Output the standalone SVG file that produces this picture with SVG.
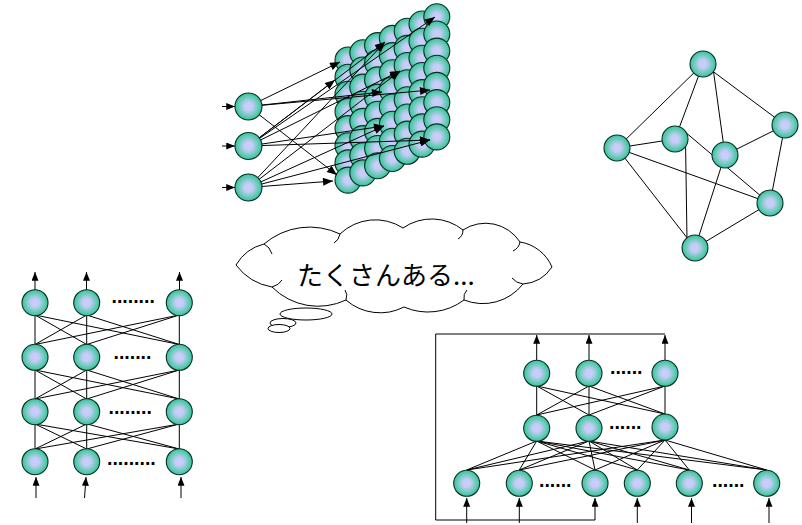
<svg xmlns="http://www.w3.org/2000/svg" width="802" height="525" viewBox="0 0 802 525">
  <defs>
    <radialGradient id="ball" cx="50%" cy="50%" r="50%">
      <stop offset="0" stop-color="#ccccff"/>
      <stop offset="0.3" stop-color="#c4cdf5"/>
      <stop offset="1" stop-color="#30c796"/>
    </radialGradient>
    <marker id="ah" viewBox="0 0 10 8" refX="10" refY="4" markerWidth="11" markerHeight="8" markerUnits="userSpaceOnUse" orient="auto">
      <path d="M0,0 L10,4 L0,8 z" fill="#000"/>
    </marker>
    <marker id="as" viewBox="0 0 10 8" refX="10" refY="4" markerWidth="9" markerHeight="7" markerUnits="userSpaceOnUse" orient="auto">
      <path d="M0,0 L10,4 L0,8 z" fill="#000"/>
    </marker>
  </defs>
  <style>
    .node circle { fill: url(#ball); stroke: #0b2e22; stroke-width: 1.1; }
    .ln { stroke: #000; stroke-width: 1; fill: none; }
    .ar { stroke: #000; stroke-width: 1; fill: none; marker-end: url(#ah); }
    .sa { stroke: #000; stroke-width: 1; fill: none; marker-end: url(#as); }
    .dots { font-family: 'Liberation Sans', Arial, sans-serif; font-weight: bold; font-size: 19.5px; fill: #000; }
    .cloud { fill: #fff; stroke: #000; stroke-width: 1; }
    .hook { fill: none; stroke: #000; stroke-width: 1; }
  </style>
  <rect width="802" height="525" fill="#fff"/>

  <!-- 7 x 8 sheet of units, drawn back to front -->
  <g id="sheet">
    <g id="u-c0-r0" class="node"><circle cx="348" cy="60" r="13"/></g>
    <g id="u-c0-r1" class="node"><circle cx="348" cy="77.2" r="13"/></g>
    <g id="u-c0-r2" class="node"><circle cx="348" cy="94.3" r="13"/></g>
    <g id="u-c0-r3" class="node"><circle cx="348" cy="111.5" r="13"/></g>
    <g id="u-c0-r4" class="node"><circle cx="348" cy="128.6" r="13"/></g>
    <g id="u-c0-r5" class="node"><circle cx="348" cy="145.8" r="13"/></g>
    <g id="u-c0-r6" class="node"><circle cx="348" cy="162.9" r="13"/></g>
    <g id="u-c0-r7" class="node"><circle cx="348" cy="180.1" r="13"/></g>
    <g id="u-c1-r0" class="node"><circle cx="362.8" cy="52.8" r="13"/></g>
    <g id="u-c1-r1" class="node"><circle cx="362.8" cy="70" r="13"/></g>
    <g id="u-c1-r2" class="node"><circle cx="362.8" cy="87.1" r="13"/></g>
    <g id="u-c1-r3" class="node"><circle cx="362.8" cy="104.3" r="13"/></g>
    <g id="u-c1-r4" class="node"><circle cx="362.8" cy="121.4" r="13"/></g>
    <g id="u-c1-r5" class="node"><circle cx="362.8" cy="138.6" r="13"/></g>
    <g id="u-c1-r6" class="node"><circle cx="362.8" cy="155.7" r="13"/></g>
    <g id="u-c1-r7" class="node"><circle cx="362.8" cy="172.9" r="13"/></g>
    <g id="u-c2-r0" class="node"><circle cx="377.6" cy="45.6" r="13"/></g>
    <g id="u-c2-r1" class="node"><circle cx="377.6" cy="62.8" r="13"/></g>
    <g id="u-c2-r2" class="node"><circle cx="377.6" cy="79.9" r="13"/></g>
    <g id="u-c2-r3" class="node"><circle cx="377.6" cy="97.1" r="13"/></g>
    <g id="u-c2-r4" class="node"><circle cx="377.6" cy="114.2" r="13"/></g>
    <g id="u-c2-r5" class="node"><circle cx="377.6" cy="131.4" r="13"/></g>
    <g id="u-c2-r6" class="node"><circle cx="377.6" cy="148.5" r="13"/></g>
    <g id="u-c2-r7" class="node"><circle cx="377.6" cy="165.7" r="13"/></g>
    <g id="u-c3-r0" class="node"><circle cx="392.4" cy="38.4" r="13"/></g>
    <g id="u-c3-r1" class="node"><circle cx="392.4" cy="55.6" r="13"/></g>
    <g id="u-c3-r2" class="node"><circle cx="392.4" cy="72.7" r="13"/></g>
    <g id="u-c3-r3" class="node"><circle cx="392.4" cy="89.9" r="13"/></g>
    <g id="u-c3-r4" class="node"><circle cx="392.4" cy="107" r="13"/></g>
    <g id="u-c3-r5" class="node"><circle cx="392.4" cy="124.2" r="13"/></g>
    <g id="u-c3-r6" class="node"><circle cx="392.4" cy="141.3" r="13"/></g>
    <g id="u-c3-r7" class="node"><circle cx="392.4" cy="158.5" r="13"/></g>
    <g id="u-c4-r0" class="node"><circle cx="407.2" cy="31.2" r="13"/></g>
    <g id="u-c4-r1" class="node"><circle cx="407.2" cy="48.4" r="13"/></g>
    <g id="u-c4-r2" class="node"><circle cx="407.2" cy="65.5" r="13"/></g>
    <g id="u-c4-r3" class="node"><circle cx="407.2" cy="82.7" r="13"/></g>
    <g id="u-c4-r4" class="node"><circle cx="407.2" cy="99.8" r="13"/></g>
    <g id="u-c4-r5" class="node"><circle cx="407.2" cy="117" r="13"/></g>
    <g id="u-c4-r6" class="node"><circle cx="407.2" cy="134.1" r="13"/></g>
    <g id="u-c4-r7" class="node"><circle cx="407.2" cy="151.3" r="13"/></g>
    <g id="u-c5-r0" class="node"><circle cx="422" cy="24" r="13"/></g>
    <g id="u-c5-r1" class="node"><circle cx="422" cy="41.2" r="13"/></g>
    <g id="u-c5-r2" class="node"><circle cx="422" cy="58.3" r="13"/></g>
    <g id="u-c5-r3" class="node"><circle cx="422" cy="75.5" r="13"/></g>
    <g id="u-c5-r4" class="node"><circle cx="422" cy="92.6" r="13"/></g>
    <g id="u-c5-r5" class="node"><circle cx="422" cy="109.8" r="13"/></g>
    <g id="u-c5-r6" class="node"><circle cx="422" cy="126.9" r="13"/></g>
    <g id="u-c5-r7" class="node"><circle cx="422" cy="144.1" r="13"/></g>
    <g id="u-c6-r0" class="node"><circle cx="436.8" cy="16.8" r="13"/></g>
    <g id="u-c6-r1" class="node"><circle cx="436.8" cy="34" r="13"/></g>
    <g id="u-c6-r2" class="node"><circle cx="436.8" cy="51.1" r="13"/></g>
    <g id="u-c6-r3" class="node"><circle cx="436.8" cy="68.3" r="13"/></g>
    <g id="u-c6-r4" class="node"><circle cx="436.8" cy="85.4" r="13"/></g>
    <g id="u-c6-r5" class="node"><circle cx="436.8" cy="102.6" r="13"/></g>
    <g id="u-c6-r6" class="node"><circle cx="436.8" cy="119.7" r="13"/></g>
    <g id="u-c6-r7" class="node"><circle cx="436.8" cy="136.9" r="13"/></g>
  </g>

  <g id="connectors">
    <!-- inputs feeding the sheet -->
    <line class="sa" x1="222" y1="106.5" x2="235" y2="106.5"/>
    <line class="sa" x1="222" y1="146" x2="235" y2="146"/>
    <line class="sa" x1="222" y1="187.5" x2="235" y2="187.5"/>
    <line class="ar" x1="248.5" y1="106.5" x2="340" y2="62"/>
    <line class="ar" x1="248.5" y1="106.5" x2="382" y2="92"/>
    <line class="ar" x1="248.5" y1="106.5" x2="430" y2="90"/>
    <line class="ar" x1="248.5" y1="106.5" x2="337" y2="175"/>
    <line class="ar" x1="248.5" y1="146" x2="335" y2="80"/>
    <line class="ar" x1="248.5" y1="146" x2="385" y2="42"/>
    <line class="ar" x1="248.5" y1="146" x2="435" y2="17"/>
    <line class="ar" x1="248.5" y1="146" x2="400" y2="71"/>
    <line class="ar" x1="248.5" y1="146" x2="384" y2="126"/>
    <line class="ar" x1="248.5" y1="146" x2="430" y2="140"/>
    <line class="ar" x1="248.5" y1="187.5" x2="333" y2="181"/>
    <line class="ar" x1="248.5" y1="187.5" x2="384" y2="126"/>
    <line class="ar" x1="248.5" y1="187.5" x2="430" y2="140"/>
    <line class="ar" x1="248.5" y1="187.5" x2="400" y2="71"/>
    <line class="ar" x1="248.5" y1="187.5" x2="385" y2="42"/>

    <!-- random graph -->
    <line class="ln" x1="703" y1="64" x2="617" y2="148"/>
    <line class="ln" x1="703" y1="64" x2="675" y2="139"/>
    <line class="ln" x1="713" y1="68" x2="725" y2="155"/>
    <line class="ln" x1="703" y1="64" x2="785" y2="125"/>
    <line class="ln" x1="617" y1="148" x2="675" y2="139"/>
    <line class="ln" x1="617" y1="148" x2="770" y2="203"/>
    <line class="ln" x1="617" y1="148" x2="695" y2="248"/>
    <line class="ln" x1="685.5" y1="140" x2="687" y2="240"/>
    <line class="ln" x1="686.7" y1="133.3" x2="761.7" y2="196.7"/>
    <line class="ln" x1="725" y1="155" x2="785" y2="125"/>
    <line class="ln" x1="725" y1="155" x2="695" y2="248"/>
    <line class="ln" x1="785" y1="125" x2="770" y2="203"/>
    <line class="ln" x1="770" y1="203" x2="695" y2="248"/>

    <!-- layered net, left -->
    <line class="sa" x1="35" y1="290" x2="35" y2="272"/>
    <line class="sa" x1="86.5" y1="290" x2="86.5" y2="272"/>
    <line class="sa" x1="179.5" y1="290" x2="179.5" y2="272"/>
    <line class="sa" x1="36" y1="498" x2="36" y2="477"/>
    <line class="sa" x1="84.5" y1="498" x2="86" y2="477"/>
    <line class="sa" x1="181" y1="498" x2="181" y2="477"/>
    <g id="l-1-2">
      <line class="ln" x1="35" y1="302.7" x2="35" y2="357.3"/>
      <line class="ln" x1="86.7" y1="302.7" x2="86.7" y2="357.3"/>
      <line class="ln" x1="179.3" y1="302.7" x2="179.3" y2="357.3"/>
      <line class="ln" x1="35" y1="315" x2="86.7" y2="344.5"/>
      <line class="ln" x1="35" y1="315" x2="179.3" y2="344.5"/>
      <line class="ln" x1="86.7" y1="315" x2="35" y2="344.5"/>
      <line class="ln" x1="86.7" y1="315" x2="179.3" y2="344.5"/>
      <line class="ln" x1="179.3" y1="315" x2="35" y2="344.5"/>
      <line class="ln" x1="179.3" y1="315" x2="86.7" y2="344.5"/>
    </g>
    <g id="l-2-3">
      <line class="ln" x1="35" y1="357.3" x2="35" y2="411.7"/>
      <line class="ln" x1="86.7" y1="357.3" x2="86.7" y2="411.7"/>
      <line class="ln" x1="179.3" y1="357.3" x2="179.3" y2="411.7"/>
      <line class="ln" x1="35" y1="370" x2="86.7" y2="399"/>
      <line class="ln" x1="35" y1="370" x2="179.3" y2="399"/>
      <line class="ln" x1="86.7" y1="370" x2="35" y2="399"/>
      <line class="ln" x1="86.7" y1="370" x2="179.3" y2="399"/>
      <line class="ln" x1="179.3" y1="370" x2="35" y2="399"/>
      <line class="ln" x1="179.3" y1="370" x2="86.7" y2="399"/>
    </g>
    <g id="l-3-4">
      <line class="ln" x1="35" y1="411.7" x2="35" y2="461.7"/>
      <line class="ln" x1="86.7" y1="411.7" x2="86.7" y2="461.7"/>
      <line class="ln" x1="179.3" y1="411.7" x2="179.3" y2="461.7"/>
      <line class="ln" x1="35" y1="424" x2="86.7" y2="449"/>
      <line class="ln" x1="35" y1="424" x2="179.3" y2="449"/>
      <line class="ln" x1="86.7" y1="424" x2="35" y2="449"/>
      <line class="ln" x1="80" y1="422" x2="179.3" y2="449"/>
      <line class="ln" x1="179.3" y1="424" x2="35" y2="449"/>
      <line class="ln" x1="179.3" y1="424" x2="86.7" y2="449"/>
    </g>

    <!-- recurrent net, right -->
    <path class="ln" d="M665,334 H435.7 V520 H595"/>
    <line class="sa" x1="595" y1="520" x2="595" y2="498"/>
    <line class="sa" x1="536.7" y1="360" x2="536.7" y2="335"/>
    <line class="sa" x1="589" y1="360" x2="589" y2="335"/>
    <line class="sa" x1="665" y1="360" x2="665" y2="335"/>
    <line class="sa" x1="466.7" y1="523" x2="466.7" y2="498"/>
    <line class="sa" x1="519.3" y1="523" x2="519.3" y2="498"/>
    <line class="sa" x1="637.3" y1="523" x2="637.3" y2="498"/>
    <line class="sa" x1="691.5" y1="523" x2="691.5" y2="498"/>
    <line class="sa" x1="769" y1="523" x2="769" y2="498"/>
    <g id="r-top-mid">
      <line class="ln" x1="536.7" y1="373.3" x2="536.7" y2="428.3"/>
      <line class="ln" x1="589" y1="373.3" x2="589" y2="428.3"/>
      <line class="ln" x1="665" y1="373.3" x2="665" y2="427"/>
      <line class="ln" x1="536.7" y1="386" x2="589" y2="415"/>
      <line class="ln" x1="536.7" y1="386" x2="665" y2="414"/>
      <line class="ln" x1="589" y1="386" x2="536.7" y2="415"/>
      <line class="ln" x1="589" y1="386" x2="665" y2="414"/>
      <line class="ln" x1="665" y1="386" x2="536.7" y2="415"/>
      <line class="ln" x1="665" y1="386" x2="589" y2="415"/>
    </g>
    <g id="r-mid-bot">
      <line class="ln" x1="536.7" y1="441" x2="466.7" y2="470"/>
      <line class="ln" x1="536.7" y1="441" x2="519.3" y2="470"/>
      <line class="ln" x1="536.7" y1="441" x2="595" y2="470"/>
      <line class="ln" x1="536.7" y1="441" x2="637.3" y2="470"/>
      <line class="ln" x1="536.7" y1="441" x2="689.3" y2="470"/>
      <line class="ln" x1="536.7" y1="441" x2="766.7" y2="470"/>
      <line class="ln" x1="589" y1="441" x2="466.7" y2="470"/>
      <line class="ln" x1="589" y1="441" x2="519.3" y2="470"/>
      <line class="ln" x1="589" y1="441" x2="595" y2="470"/>
      <line class="ln" x1="589" y1="441" x2="637.3" y2="470"/>
      <line class="ln" x1="589" y1="441" x2="689.3" y2="470"/>
      <line class="ln" x1="589" y1="441" x2="766.7" y2="470"/>
      <line class="ln" x1="665" y1="440" x2="466.7" y2="470"/>
      <line class="ln" x1="665" y1="440" x2="519.3" y2="470"/>
      <line class="ln" x1="665" y1="440" x2="595" y2="470"/>
      <line class="ln" x1="665" y1="440" x2="637.3" y2="470"/>
      <line class="ln" x1="665" y1="440" x2="689.3" y2="470"/>
      <line class="ln" x1="665" y1="440" x2="766.7" y2="470"/>
    </g>
  </g>

  <!-- input units of the sheet -->
  <g id="in-1" class="node"><circle cx="248.5" cy="106.5" r="13.5"/></g>
  <g id="in-2" class="node"><circle cx="248.5" cy="146" r="13.5"/></g>
  <g id="in-3" class="node"><circle cx="248.5" cy="187.5" r="13.5"/></g>

  <!-- random graph units -->
  <g id="g-1" class="node"><circle cx="703" cy="64" r="13"/></g>
  <g id="g-2" class="node"><circle cx="785" cy="125" r="13"/></g>
  <g id="g-3" class="node"><circle cx="617" cy="148" r="13"/></g>
  <g id="g-4" class="node"><circle cx="675" cy="139" r="13"/></g>
  <g id="g-5" class="node"><circle cx="725" cy="155" r="13"/></g>
  <g id="g-6" class="node"><circle cx="770" cy="203" r="13"/></g>
  <g id="g-7" class="node"><circle cx="695" cy="248" r="13"/></g>

  <!-- layered net, left -->
  <g id="l-r1-a" class="node"><circle cx="35" cy="302.7" r="13"/></g>
  <g id="l-r1-b" class="node"><circle cx="86.7" cy="302.7" r="13"/></g>
  <g id="l-r1-c" class="node"><circle cx="179.3" cy="302.7" r="13"/></g>
  <g id="l-r2-a" class="node"><circle cx="35" cy="357.3" r="13"/></g>
  <g id="l-r2-b" class="node"><circle cx="86.7" cy="357.3" r="13"/></g>
  <g id="l-r2-c" class="node"><circle cx="179.3" cy="357.3" r="13"/></g>
  <g id="l-r3-a" class="node"><circle cx="35" cy="411.7" r="13"/></g>
  <g id="l-r3-b" class="node"><circle cx="86.7" cy="411.7" r="13"/></g>
  <g id="l-r3-c" class="node"><circle cx="179.3" cy="411.7" r="13"/></g>
  <g id="l-r4-a" class="node"><circle cx="35" cy="461.7" r="13"/></g>
  <g id="l-r4-b" class="node"><circle cx="86.7" cy="461.7" r="13"/></g>
  <g id="l-r4-c" class="node"><circle cx="179.3" cy="461.7" r="13"/></g>
  <text class="dots" x="111.5" y="303">........</text>
  <text class="dots" x="113.5" y="359">.......</text>
  <text class="dots" x="108.5" y="413.5">........</text>
  <text class="dots" x="107" y="465">.........</text>

  <!-- recurrent net, right -->
  <g id="r-t-a" class="node"><circle cx="536.7" cy="373.3" r="13"/></g>
  <g id="r-t-b" class="node"><circle cx="589" cy="373.3" r="13"/></g>
  <g id="r-t-c" class="node"><circle cx="665" cy="373.3" r="13"/></g>
  <g id="r-m-a" class="node"><circle cx="536.7" cy="428.3" r="13"/></g>
  <g id="r-m-b" class="node"><circle cx="589" cy="428.3" r="13"/></g>
  <g id="r-m-c" class="node"><circle cx="665" cy="427" r="13"/></g>
  <g id="r-b-1" class="node"><circle cx="466.7" cy="483.3" r="13"/></g>
  <g id="r-b-2" class="node"><circle cx="519.3" cy="483.3" r="13"/></g>
  <g id="r-b-3" class="node"><circle cx="595" cy="483.3" r="13"/></g>
  <g id="r-b-4" class="node"><circle cx="637.3" cy="483.3" r="13"/></g>
  <g id="r-b-5" class="node"><circle cx="689.3" cy="483.3" r="13"/></g>
  <g id="r-b-6" class="node"><circle cx="766.7" cy="483.3" r="13"/></g>
  <text class="dots" x="610" y="374">......</text>
  <text class="dots" x="609" y="429">......</text>
  <text class="dots" x="539" y="487">......</text>
  <text class="dots" x="712" y="487">......</text>

  <!-- thought cloud -->
  <g id="cloud">
    <path class="cloud" d="M236,265 A45,45 0 0 1 264,244 A70,70 0 0 1 340,234 A51,51 0 0 1 403,228 A50,50 0 0 1 463,230 A41,41 0 0 1 520,242 A42,42 0 0 1 552,267 A38,38 0 0 1 523,284 A51,51 0 0 1 464,300 A60,60 0 0 1 404,307 A52,52 0 0 1 346,300 A65,65 0 0 1 272,287 A57,57 0 0 1 236,265 Z"/>
    <path class="hook" d="M264,244 Q270,247 272,254"/>
    <path class="hook" d="M340,234 Q339,240 334,243"/>
    <path class="hook" d="M463,230 Q463,236 458,239"/>
    <path class="hook" d="M520,242 Q519,248 513,251"/>
    <path class="hook" d="M523,284 Q516,283 512,278"/>
    <path class="hook" d="M464,300 Q463,294 467,290"/>
    <path class="hook" d="M346,300 Q348,294 345,290"/>
    <path class="hook" d="M272,287 Q279,285 282,280"/>
    <ellipse class="cloud" cx="306" cy="314" rx="26" ry="6"/>
    <ellipse class="cloud" cx="283" cy="323" rx="13" ry="4.5"/>
    <ellipse class="cloud" cx="279" cy="328.5" rx="11" ry="4"/>
    <text x="297" y="285" font-family="'Noto Sans CJK JP', sans-serif" font-size="26" fill="#000">たくさんある...</text>
  </g>
</svg>
